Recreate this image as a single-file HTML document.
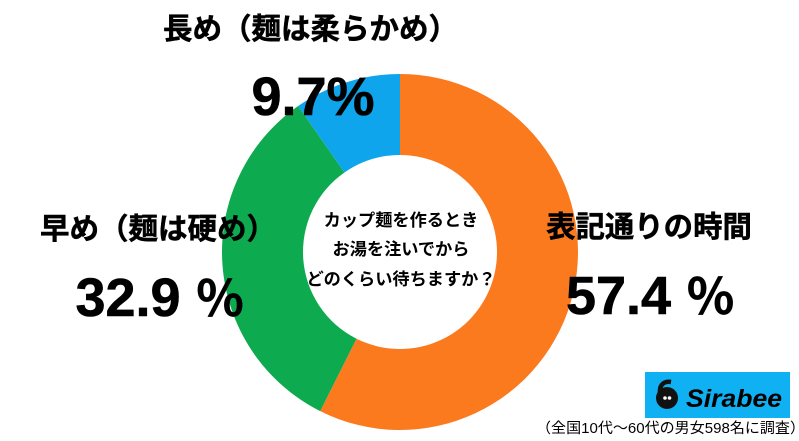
<!DOCTYPE html>
<html lang="ja">
<head>
<meta charset="utf-8">
<style>
html,body{margin:0;padding:0;background:#fff;width:799px;height:441px;overflow:hidden}
svg{display:block}
text{font-family:"Liberation Sans","Noto Sans CJK JP",sans-serif;fill:#000}
.t{font-weight:700;stroke:#000;stroke-width:.5px}
.n{font-weight:700;stroke:#000;stroke-width:.6px}
</style>
</head>
<body>
<svg id="chart" width="799" height="441" viewBox="0 0 799 441" xmlns="http://www.w3.org/2000/svg">
<g id="slices"></g>
<text x="401" y="226" text-anchor="middle" font-size="17.2" font-weight="700">カップ麺を作るとき</text>
<text x="401" y="255" text-anchor="middle" font-size="17.2" font-weight="700">お湯を注いでから</text>
<text x="401" y="285" text-anchor="middle" font-size="17.2" font-weight="700">どのくらい待ちますか？</text>
<g id="labels"></g>
<rect x="645" y="372" width="145" height="46" fill="#0fb1f2"/>
<g>
<circle cx="667" cy="398" r="11" fill="#111"/>
<path d="M660 393 C659 384 665 381 671 382" fill="none" stroke="#111" stroke-width="4.5"/>
<circle cx="665" cy="398" r="1.8" fill="#fff"/>
<circle cx="669.5" cy="398" r="1.8" fill="#fff"/>
</g>
<text x="686" y="407" font-size="25" font-weight="700" font-style="italic" textLength="96" lengthAdjust="spacingAndGlyphs">Sirabee</text>
<text x="536" y="433" font-size="14.5" textLength="269" lengthAdjust="spacingAndGlyphs">（全国10代～60代の男女598名に調査）</text>
</svg>
<script>
const categories = ["表記通りの時間", "早め（麺は硬め）", "長め（麺は柔らかめ）"];
const seriesValues = [57.4, 32.9, 9.7];
const printedValues = ["57.4 ", "32.9 ", "9.7"];
const printedUnits = ["％", "％", "%"];
const sliceColors = ["#fb7a1e", "#0eaa4f", "#0ea5ec"];

const NS = "http://www.w3.org/2000/svg";
const cx = 400, cy = 252, rOuter = 178, rInner = 97;
const total = seriesValues.reduce((a, b) => a + b, 0);
function angleOf(v) { return v / total * Math.PI * 2; }
function pt(r, a) { return [cx + r * Math.sin(a), cy - r * Math.cos(a)]; }

const sliceGroup = document.getElementById("slices");
let acc = 0;
seriesValues.forEach((v, i) => {
  const a0 = angleOf(acc), a1 = angleOf(acc + v);
  acc += v;
  const large = a1 - a0 > Math.PI ? 1 : 0;
  const p0 = pt(rOuter, a0), p1 = pt(rOuter, a1), p2 = pt(rInner, a1), p3 = pt(rInner, a0);
  const el = document.createElementNS(NS, "path");
  el.setAttribute("d", `M${p0[0]} ${p0[1]}A${rOuter} ${rOuter} 0 ${large} 1 ${p1[0]} ${p1[1]}L${p2[0]} ${p2[1]}A${rInner} ${rInner} 0 ${large} 0 ${p3[0]} ${p3[1]}Z`);
  el.setAttribute("fill", sliceColors[i]);
  
  
  sliceGroup.appendChild(el);
});

const labelGroup = document.getElementById("labels");
const titleLayout = [
  { x: 649, y: 237, size: 29.4 },
  { x: 158, y: 239, size: 29.5 },
  { x: 310.5, y: 39, size: 29.5 }
];
const valueLayout = [
  { x: 650.5, y: 314, size: 54, unit: 49 },
  { x: 160, y: 316, size: 54, unit: 49 },
  { x: 313, y: 115, size: 54, unit: 54 }
];
categories.forEach((c, i) => {
  const t = document.createElementNS(NS, "text");
  t.textContent = c;
  t.setAttribute("x", titleLayout[i].x);
  t.setAttribute("y", titleLayout[i].y);
  t.setAttribute("font-size", titleLayout[i].size);
  t.setAttribute("text-anchor", "middle");
  t.setAttribute("class", "t");
  
  
  labelGroup.appendChild(t);
  const n = document.createElementNS(NS, "text");
  n.setAttribute("xml:space", "preserve");
  n.style.whiteSpace = "pre";
  n.appendChild(document.createTextNode(printedValues[i]));
  const u = document.createElementNS(NS, "tspan");
  u.textContent = printedUnits[i];
  u.setAttribute("font-size", valueLayout[i].unit);
  
  
  n.appendChild(u);
  n.setAttribute("x", valueLayout[i].x);
  n.setAttribute("y", valueLayout[i].y);
  n.setAttribute("font-size", valueLayout[i].size);
  n.setAttribute("text-anchor", "middle");
  n.setAttribute("class", "n");
  
  
  labelGroup.appendChild(n);
});
</script>
</body>
</html>
